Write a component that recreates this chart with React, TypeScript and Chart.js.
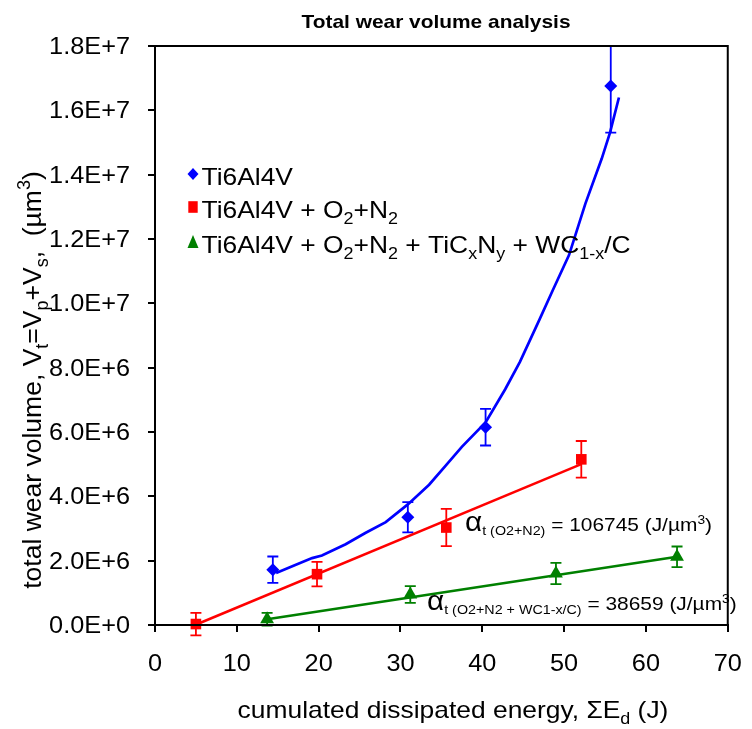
import React, { useEffect, useRef } from 'react';
import { Chart, registerables } from 'chart.js';

Chart.register(...registerables);

const FONT = '"Liberation Sans", Arial, sans-serif';
const SX = 1.1; // horizontal text stretch seen in the reference

// ---- data ----
const tiX = [14.4, 30.9, 40.4, 55.7];
const tiY = [1.72e6, 3.35e6, 6.15e6, 1.676e7];
const tiErr = [0.41e6, 0.47e6, 0.57e6, 1.45e6];

const o2X = [5.0, 19.8, 35.6, 52.1];
const o2Y = [0.03e6, 1.58e6, 3.03e6, 5.15e6];
const o2Err = [0.35e6, 0.38e6, 0.58e6, 0.57e6];

const wcX = [13.7, 31.2, 49.0, 63.8];
const wcY = [0.18e6, 0.95e6, 1.6e6, 2.12e6];
const wcErr = [0.2e6, 0.26e6, 0.33e6, 0.32e6];

const tiFitX = [14.8, 17, 19.2, 20.4, 23.3, 25.7, 28.2, 30.9, 33.5, 35.5, 37.5, 40.4, 42.8, 44.6, 47, 48.6, 50.6, 52.6, 54.6, 55.6, 56.7];
const tiFitY = [1.62e6, 1.85e6, 2.08e6, 2.16e6, 2.51e6, 2.86e6, 3.2e6, 3.75e6, 4.36e6, 4.95e6, 5.54e6, 6.3e6, 7.33e6, 8.18e6, 9.5e6, 10.4e6, 11.5e6, 13.1e6, 14.5e6, 15.3e6, 16.4e6];
const o2FitX = [4.9, 52.1];
const o2FitY = [0, 5.0e6];
const wcFitX = [13.7, 63.8];
const wcFitY = [0.18e6, 2.12e6];

const xTicks = [0, 10, 20, 30, 40, 50, 60, 70];
const yTicks = [0, 2e6, 4e6, 6e6, 8e6, 1e7, 1.2e7, 1.4e7, 1.6e7, 1.8e7];

const BLUE = '#0000FF';
const RED = '#FF0000';
const GREEN = '#008000';

type Seg = { t: string; sub?: boolean; sup?: boolean; size?: number; dy?: number };

function segSize(s: Seg, base: number) {
  if (s.size) return s.size;
  return s.sub || s.sup ? base * 0.68 : base;
}

function richWidth(ctx: CanvasRenderingContext2D, segs: Seg[], base: number) {
  let w = 0;
  for (const s of segs) {
    ctx.font = `${segSize(s, base)}px ${FONT}`;
    w += ctx.measureText(s.t).width;
  }
  return w;
}

function drawRich(ctx: CanvasRenderingContext2D, segs: Seg[], x: number, y: number, base: number, align: 'left' | 'center', sx = SX, color = '#000') {
  const w = richWidth(ctx, segs, base) * sx;
  const start = align === 'center' ? x - w / 2 : x;
  ctx.save();
  ctx.translate(start, y);
  ctx.scale(sx, 1);
  ctx.fillStyle = color;
  ctx.textBaseline = 'alphabetic';
  ctx.textAlign = 'left';
  let cx = 0;
  for (const s of segs) {
    const sz = segSize(s, base);
    ctx.font = `${sz}px ${FONT}`;
    let dy = 0;
    if (s.sub) dy = base * 0.26;
    if (s.sup) dy = -base * 0.4;
    if (s.dy !== undefined) dy = s.dy;
    ctx.fillText(s.t, cx, dy);
    cx += ctx.measureText(s.t).width;
  }
  ctx.restore();
}

const pts = (xs: number[], ys: number[]) => xs.map((x, i) => ({ x, y: ys[i] }));

const errorBars = [
  { xs: tiX, ys: tiY, es: tiErr, color: BLUE },
  { xs: o2X, ys: o2Y, es: o2Err, color: RED },
  { xs: wcX, ys: wcY, es: wcErr, color: GREEN },
];

const errorPlugin = {
  id: 'errorBars',
  beforeDatasetsDraw(chart: any) {
    const { ctx, scales } = chart;
    const xs = scales.x, ys = scales.y;
    ctx.save();
    ctx.lineWidth = 1.8;
    for (const g of errorBars) {
      ctx.strokeStyle = g.color;
      g.xs.forEach((xv, i) => {
        const px = xs.getPixelForValue(xv);
        const top = ys.getPixelForValue(Math.min(g.ys[i] + g.es[i], ys.max));
        const bot = ys.getPixelForValue(g.ys[i] - g.es[i]);
        ctx.beginPath();
        ctx.moveTo(px, top);
        ctx.lineTo(px, bot);
        ctx.moveTo(px - 5.5, top);
        ctx.lineTo(px + 5.5, top);
        ctx.moveTo(px - 5.5, bot);
        ctx.lineTo(px + 5.5, bot);
        ctx.stroke();
      });
    }
    ctx.restore();
  },
};

const textPlugin = {
  id: 'texts',
  afterDraw(chart: any) {
    const { ctx, chartArea, scales } = chart;
    const xs = scales.x, ys = scales.y;
    ctx.save();
    // frame
    ctx.strokeStyle = '#000';
    ctx.lineWidth = 2;
    ctx.strokeRect(chartArea.left, chartArea.top, chartArea.right - chartArea.left, chartArea.bottom - chartArea.top);

    // tick labels (positions from the library's scales)
    for (const v of xTicks) {
      drawRich(ctx, [{ t: String(v) }], xs.getPixelForValue(v), chartArea.bottom + 46, 23, 'center');
    }
    for (const v of yTicks) {
      const label = v.toExponential(1).replace('e', 'E');
      ctx.font = `23px ${FONT}`;
      const w = ctx.measureText(label).width * SX;
      drawRich(ctx, [{ t: label }], chartArea.left - 25 - w, ys.getPixelForValue(v) + 8, 23, 'left');
    }

    // title
    ctx.save();
    ctx.translate(436, 28);
    ctx.scale(SX, 1);
    ctx.font = `bold 19px ${FONT}`;
    ctx.fillStyle = '#000';
    ctx.textAlign = 'center';
    ctx.textBaseline = 'alphabetic';
    ctx.fillText('Total wear volume analysis', 0, 0);
    ctx.restore();

    // x title
    drawRich(ctx, [{ t: 'cumulated dissipated energy, ΣE' }, { t: 'd', sub: true }, { t: ' (J)' }], 453, 718, 24, 'center');

    // y title
    ctx.save();
    ctx.translate(41, 380);
    ctx.rotate(-Math.PI / 2);
    drawRich(ctx, [
      { t: 'total wear volume, V' }, { t: 't', sub: true }, { t: '=V' }, { t: 'p', sub: true }, { t: '+V' }, { t: 's', sub: true },
      { t: ',  (µm' }, { t: '3', sup: true }, { t: ')' },
    ], 0, 0, 26.5, 'center', 1);
    ctx.restore();

    // legend
    const lx = 193;
    const rows = [
      { y: 174, by: 185, color: BLUE, shape: 'diamond', segs: [{ t: 'Ti6Al4V' }] as Seg[] },
      { y: 207, by: 218, color: RED, shape: 'rect', segs: [{ t: 'Ti6Al4V + O' }, { t: '2', sub: true }, { t: '+N' }, { t: '2', sub: true }] as Seg[] },
      { y: 242, by: 253, color: GREEN, shape: 'tri', segs: [
        { t: 'Ti6Al4V + O' }, { t: '2', sub: true }, { t: '+N' }, { t: '2', sub: true }, { t: ' + TiC' }, { t: 'x', sub: true },
        { t: 'N' }, { t: 'y', sub: true }, { t: ' + WC' }, { t: '1-x', sub: true }, { t: '/C' },
      ] as Seg[] },
    ];
    for (const r of rows) {
      ctx.fillStyle = r.color;
      ctx.beginPath();
      if (r.shape === 'diamond') {
        ctx.moveTo(lx, r.y - 6); ctx.lineTo(lx + 5.5, r.y); ctx.lineTo(lx, r.y + 6); ctx.lineTo(lx - 5.5, r.y);
      } else if (r.shape === 'rect') {
        ctx.rect(lx - 4.7, r.y - 5.8, 9.4, 11.6);
      } else {
        ctx.moveTo(lx, r.y - 7); ctx.lineTo(lx + 5.5, r.y + 6); ctx.lineTo(lx - 5.5, r.y + 6);
      }
      ctx.closePath();
      ctx.fill();
      drawRich(ctx, r.segs, 201.5, r.by, 24, 'left');
    }

    // annotations
    drawRich(ctx, [
      { t: 'α', size: 27 }, { t: 't (O2+N2)', size: 13, dy: 4 }, { t: ' = 106745 (J/µm', size: 19 }, { t: '3', size: 12.5, dy: -7 }, { t: ')', size: 19 },
    ], 465, 531, 19, 'left');
    drawRich(ctx, [
      { t: 'α', size: 27 }, { t: 't (O2+N2 + WC1-x/C)', size: 13, dy: 4 }, { t: ' = 38659 (J/µm', size: 19 }, { t: '3', size: 12.5, dy: -7 }, { t: ')', size: 19 },
    ], 427, 610, 19, 'left');
    ctx.restore();
  },
};

export default function App() {
  const ref = useRef<HTMLCanvasElement | null>(null);
  useEffect(() => {
    if (!ref.current) return;
    const lineDs = (xs: number[], ys: number[], color: string, w = 2.5) => ({
      type: 'line' as const,
      data: pts(xs, ys),
      borderColor: color,
      borderWidth: w,
      pointRadius: 0,
      showLine: true,
      fill: false,
      tension: 0,
      clip: false,
    });
    const ptDs = (xs: number[], ys: number[], color: string, style: string, r: number) => ({
      type: 'scatter' as const,
      data: pts(xs, ys),
      backgroundColor: color,
      borderColor: color,
      borderWidth: 0,
      pointStyle: style,
      pointRadius: r,
      showLine: false,
      clip: false,
    });
    const chart = new Chart(ref.current, {
      type: 'scatter',
      data: {
        datasets: [
          lineDs(tiFitX, tiFitY, BLUE, 2.7),
          lineDs(o2FitX, o2FitY, RED, 2.5),
          lineDs(wcFitX, wcFitY, GREEN, 2.5),
          ptDs(tiX, tiY, BLUE, 'rectRot', 6.5),
          ptDs(o2X, o2Y, RED, 'rect', 7.5),
          ptDs(wcX, wcY, GREEN, 'triangle', 8),
        ] as any,
      },
      options: {
        responsive: false,
        animation: false,
        devicePixelRatio: 1,
        layout: { padding: { left: 0, top: 46, right: 22, bottom: 0 } },
        plugins: { legend: { display: false }, tooltip: { enabled: false }, title: { display: false } },
        scales: {
          x: {
            type: 'linear',
            min: 0,
            max: 70,
            afterFit: (s: any) => { s.height = 104; },
            afterBuildTicks: (s: any) => { s.ticks = xTicks.map((v) => ({ value: v })); },
            grid: { drawOnChartArea: false, drawTicks: true, tickLength: 7, color: '#000', lineWidth: 2 },
            border: { color: '#000', width: 2 },
            ticks: { color: 'rgba(0,0,0,0)', font: { family: FONT, size: 22 }, padding: 12, maxRotation: 0 },
          },
          y: {
            type: 'linear',
            min: 0,
            max: 1.8e7,
            afterFit: (s: any) => { s.width = 155; },
            afterBuildTicks: (s: any) => { s.ticks = yTicks.map((v) => ({ value: v })); },
            grid: { drawOnChartArea: false, drawTicks: true, tickLength: 7, color: '#000', lineWidth: 2 },
            border: { color: '#000', width: 2 },
            ticks: {
              color: 'rgba(0,0,0,0)',
              font: { family: FONT, size: 22 },
              padding: 12,
              callback: (v: any) => Number(v).toExponential(1).replace('e', 'E'),
            },
          },
        },
      },
      plugins: [errorPlugin, textPlugin],
    });
    return () => chart.destroy();
  }, []);
  return (
    <div style={{ position: 'fixed', left: 0, top: 0, width: 752, height: 729, background: '#fff' }}>
      <canvas ref={ref} width={752} height={729} style={{ width: 752, height: 729, display: 'block' }} />
    </div>
  );
}
